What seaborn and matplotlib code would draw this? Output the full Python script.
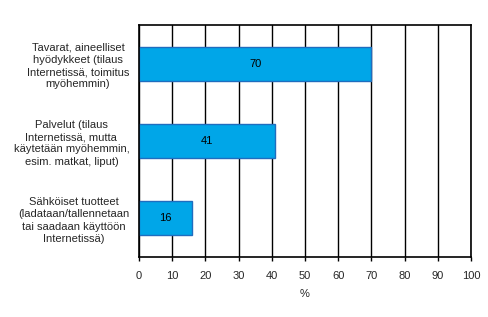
import matplotlib
matplotlib.use("Agg")
import matplotlib.pyplot as plt
import seaborn as sns
import pandas as pd

categories = [
    "Tavarat, aineelliset\nhyödykkeet (tilaus\nInternetissä, toimitus\nmyöhemmin)",
    "Palvelut (tilaus\nInternetissä, mutta\nkäytetään myöhemmin,\nesim. matkat, liput)",
    "Sähköiset tuotteet\n(ladataan/tallennetaan\ntai saadaan käyttöön\nInternetissä)",
]
values = [70, 41, 16]
xticks = list(range(0, 101, 10))

sns.set_theme(style="white")
plt.rcParams['font.family'] = ['Liberation Sans', 'DejaVu Sans']

df = pd.DataFrame({"cat": categories, "val": values})

fig = plt.figure(figsize=(4.89, 3.17), dpi=100)
ax = fig.add_axes([139/489, 1 - 257/317, (471-139)/489, (257-25)/317])

sns.barplot(data=df, y="cat", x="val", orient="h", color="#00A6E8",
            edgecolor="#1F6DBF", linewidth=1.0, width=0.44, saturation=1, ax=ax)

FS = 8
ax.set_xlim(0, 100)
ax.set_ylim(2.5, -0.5)
ax.set_xticks(xticks)
ax.set_xticklabels([str(t) for t in xticks], fontsize=FS)
ax.grid(axis="x", color="black", linewidth=1.0)
ax.set_axisbelow(True)
for s in ax.spines.values():
    s.set_visible(True)
    s.set_color("black")
    s.set_linewidth(1.2)
ax.tick_params(axis="x", bottom=True, length=3, width=1, color="black", pad=7, labelsize=FS)
ax.tick_params(axis="y", left=False, pad=1)
for lbl in ax.get_yticklabels():
    lbl.set_multialignment("center")
    lbl.set_fontsize(FS)
    lbl.set_linespacing(1.3)
ax.set_ylabel("")
ax.set_xlabel("%", fontsize=FS, labelpad=6)

for i, v in enumerate(values):
    ax.text(v / 2, i, str(v), ha="center", va="center", fontsize=FS, color="black")

fig.savefig("out.png", dpi=100)
